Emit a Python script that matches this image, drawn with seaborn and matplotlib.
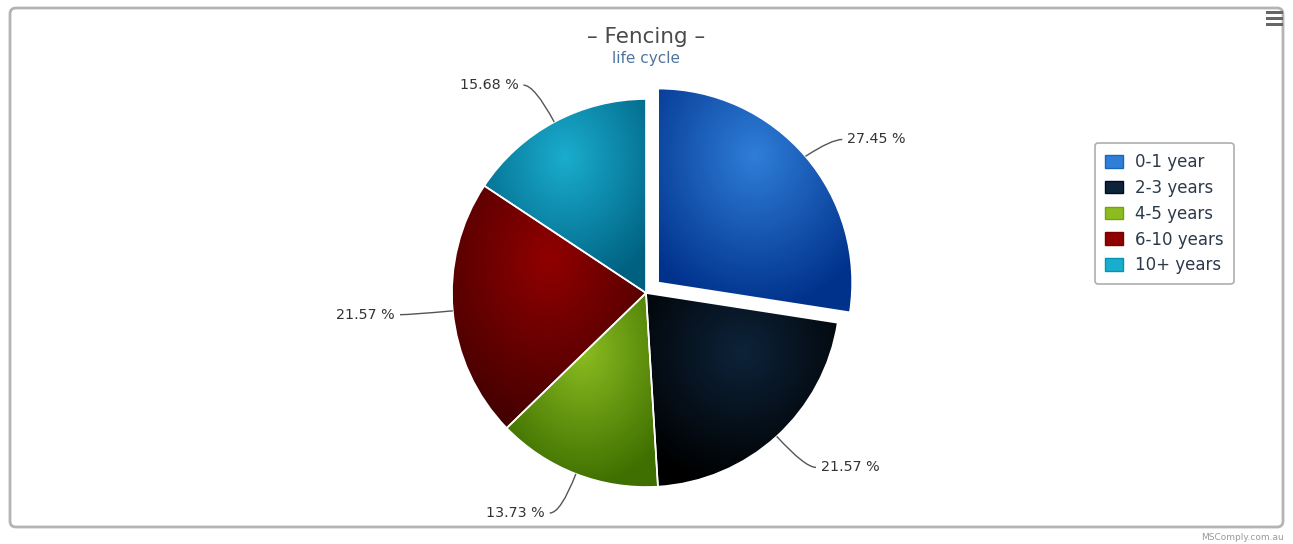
import numpy as np
import matplotlib
matplotlib.use("Agg")
import matplotlib.pyplot as plt
import matplotlib.patches as mpatches
from matplotlib.path import Path
from matplotlib.colors import to_rgb
import seaborn as sns

# Life-cycle shares of fencing assets
categories = ["0-1 year", "2-3 years", "4-5 years", "6-10 years", "10+ years"]
shares = [27.45, 21.57, 13.73, 21.57, 15.68]
base_colors = ["#2f7ed8", "#0d233a", "#8bbc21", "#910000", "#1aadce"]
explode_px = [16, 0, 0, 0, 0]

sns.set_theme(style="white")
palette = sns.color_palette(base_colors)

W, H = 1293, 544
fig = plt.figure(figsize=(W / 100, H / 100), dpi=100)
ax = fig.add_axes([0, 0, 1, 1])


def py(y_px):
    """Convert a top-down pixel row to the axes' bottom-up coordinate."""
    return H - y_px


cx, cy, radius = 646, py(293), 194

wedges, _ = ax.pie(
    shares,
    colors=palette,
    startangle=90,
    counterclock=False,
    center=(cx, cy),
    radius=radius,
    explode=explode_px,
    wedgeprops=dict(edgecolor="white", linewidth=1.2),
)
ax.set_xlim(0, W)
ax.set_ylim(0, H)
ax.set_aspect("auto")
ax.axis("off")


def shade(rgb, amount=-0.3):
    return np.clip(np.array(rgb) + amount, 0, 1)


# radial gradient fill per slice (bright near the upper middle, darker outwards)
for w, col in zip(wedges, palette):
    c0 = np.array(to_rgb(col))
    c1 = shade(c0)
    ext = w.get_path().get_extents()
    x0, y0, x1, y1 = ext.x0, ext.y0, ext.x1, ext.y1
    n = 220
    u = np.linspace(0, 1, n)[None, :]
    v = np.linspace(0, 1, n)[:, None]  # 0 at top of the box
    d = np.sqrt((u - 0.5) ** 2 + (v - 0.3) ** 2) / 0.7
    d = np.clip(d, 0, 1)[..., None]
    img = c0 * (1 - d) + c1 * d
    im = ax.imshow(img, extent=(x0, x1, y0, y1), origin="upper",
                   interpolation="bilinear", zorder=2, aspect="auto")
    im.set_clip_path(w)
    w.set_facecolor("none")
    w.set_zorder(3)

# data labels with curved connectors; labels sit on a ring around the
# unexploded pie, connectors reach the (possibly pulled-out) slice edge
label_ring = radius + 42
for w, val, ex_off in zip(wedges, shares, explode_px):
    tm = np.deg2rad((w.theta1 + w.theta2) / 2)
    wx, wy = w.center
    ex, ey = wx + w.r * np.cos(tm), wy + w.r * np.sin(tm)
    kx = cx + (label_ring + ex_off * 0.5) * np.cos(tm)
    ky = cy + label_ring * np.sin(tm)
    side = 1 if np.cos(tm) >= 0 else -1
    start = (kx + side * 11, ky)
    path = Path([start, (kx, ky), (ex, ey)],
                [Path.MOVETO, Path.CURVE3, Path.CURVE3])
    ax.add_patch(mpatches.PathPatch(path, fill=False, edgecolor="#555555",
                                    lw=1.0, zorder=4))
    ax.text(kx + side * 16, ky, f"{val:.2f} %", ha="left" if side > 0 else "right",
            va="center", fontsize=10.3, color="#333333", zorder=5)

# title block
ax.text(646, py(37), "– Fencing –", ha="center", va="center",
        fontsize=15.5, color="#4a4a4a")
ax.text(646, py(59), "life cycle", ha="center", va="center",
        fontsize=11, color="#4d759e")

# outer chart frame
frame = mpatches.FancyBboxPatch((10, py(527)), 1273, 519,
                                boxstyle="round,pad=0,rounding_size=6",
                                facecolor="none", edgecolor="#b4b4b4", lw=2.0,
                                zorder=1)
ax.add_patch(frame)

# context-menu button
for yb in (12, 18, 24):
    ax.add_patch(mpatches.Rectangle((1266, py(yb) - 1.5), 17, 3,
                                    facecolor="#666666", edgecolor="none", zorder=6))

# credit line
ax.text(1284, py(537), "MSComply.com.au", ha="right", va="center",
        fontsize=6.5, color="#9a9a9a")

# legend
handles = [mpatches.Patch(facecolor=c, edgecolor=shade(to_rgb(c), -0.1), label=l)
           for c, l in zip(palette, categories)]
leg = ax.legend(handles=handles, loc="upper left",
                bbox_to_anchor=(1095 / W, 1 - 143 / H),
                bbox_transform=fig.transFigure,
                fontsize=12, frameon=True, fancybox=True,
                handlelength=1.05, handleheight=0.8, handletextpad=0.75,
                labelspacing=0.47, borderpad=0.6, borderaxespad=0)
leg.get_frame().set_edgecolor("#9a9a9a")
leg.get_frame().set_linewidth(1.2)
for t in leg.get_texts():
    t.set_color("#2b3a4a")

fig.savefig("out.png", dpi=100, facecolor="white")
